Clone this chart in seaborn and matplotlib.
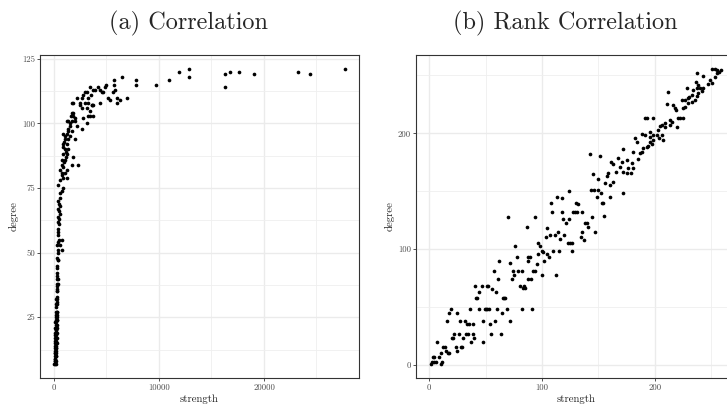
import matplotlib
matplotlib.use("Agg")
import matplotlib.pyplot as plt
import pandas as pd
import seaborn as sns

# values

# (a) raw values: node strength vs degree
low_strength = [40, 90, 150, 60, 120, 180, 50, 140, 80, 160,
                210, 70, 130, 190, 100, 170, 60, 150, 230, 110,
                200, 90, 160, 240, 120, 210, 80, 180, 250, 140,
                220, 100, 200, 260, 150, 230, 120, 190, 280, 170,
                250, 130, 220, 160, 260, 300, 180, 240, 150, 280,
                200, 260, 320, 210, 180, 270, 240, 220, 300, 260,
                240, 320, 280, 260, 300, 340, 290, 350, 310, 330,
                320, 300, 340, 380, 320, 360, 380, 760, 320, 570,
                400, 440, 800, 380, 350, 420, 440, 350, 520, 400,
                600, 460, 380, 560, 450, 420, 560]
low_degree = [7, 7, 7, 8, 8, 8, 9, 9, 10, 10,
              10, 11, 11, 11, 12, 12, 13, 13, 13, 14,
              14, 15, 15, 15, 16, 16, 17, 17, 17, 18,
              18, 19, 19, 19, 20, 20, 21, 21, 21, 22,
              22, 23, 23, 24, 24, 24, 25, 25, 26, 26,
              27, 27, 27, 29, 30, 30, 31, 32, 32, 33,
              35, 35, 36, 37, 38, 38, 40, 40, 41, 42,
              44, 45, 47, 47, 48, 50, 51, 51, 53, 53,
              54, 55, 55, 57, 58, 59, 61, 62, 63, 64,
              65, 66, 67, 68, 69, 70, 71]

curve_strength = [6450, 7780, 7780, 5750, 5720, 5810, 4920, 4860, 4220, 4380,
                  4540, 4700, 3900, 3430, 3750, 2950, 2790, 3110, 3270, 3520,
                  5180, 5650, 5970, 6290, 6920, 5970, 5330, 4380, 3750, 3590,
                  3270, 2950, 2640, 2480, 2160, 1840, 1680, 2480, 2700, 3110,
                  3430, 3590, 3270, 3430, 3750, 2730, 3110, 2700, 2160, 2000,
                  1840, 1840, 1680, 1370, 1210, 2000, 1520, 1370, 1680, 1210,
                  1050, 1520, 2000, 1370, 1050, 890, 1210, 890, 1050, 1370,
                  1210, 1840, 890, 730, 1050, 1680, 2320, 730, 890, 1210,
                  570, 730, 1050, 1210, 890, 570, 410, 890, 730, 570,
                  900, 1000, 1100, 1150, 950, 800, 1300, 1500, 1600, 1700]
curve_degree = [118, 117, 115, 117, 115, 113, 115, 114, 114, 113,
                112, 112, 113, 114, 113, 112, 111, 112, 110, 111,
                110, 112, 110, 109, 110, 108, 109, 108, 107, 107,
                108, 108, 110, 108, 110, 108, 108, 107, 106, 106,
                105, 107, 103, 103, 103, 102, 100, 98, 99, 101,
                104, 103, 101, 101, 101, 102, 99, 97, 97, 96,
                95, 95, 94, 94, 94, 92, 92, 91, 90, 90,
                88, 87, 88, 86, 86, 84, 84, 84, 83, 82,
                82, 81, 81, 79, 79, 78, 76, 75, 74, 73,
                96, 93, 89, 87, 85, 80, 98, 100, 103, 104]

top_strength = [9710, 10980, 11870, 12830, 12830, 16290, 16290, 16730, 17650,
                19050, 23270, 24410, 27710]
top_degree = [115, 117, 120, 121, 118, 119, 114, 120, 120, 119, 120, 119, 121]

# (b) ranks of strength vs ranks of degree
rank_strength = [
    1.2, 3.0, 4.4, 2.4, 4.1, 5.9, 7.1, 8.9, 10.1, 10.1,
    11.2, 12.4, 13.9, 14.8, 16.3, 17.2, 16.0, 17.8, 18.9, 19.8,
    21.3, 22.2, 23.7, 24.3, 24.9, 26.0, 27.2, 28.1, 29.0, 30.2,
    31.7, 32.5, 33.7, 34.6, 35.5, 36.1, 37.3, 38.5, 39.1, 39.6,
    40.8, 41.4, 42.6, 44.4, 44.4, 46.4, 47.3, 47.9, 49.4, 50.3,
    50.9, 51.5, 52.4, 53.3, 53.8, 54.4, 55.6, 57.4, 58.3, 59.2,
    60.4, 63.3, 64.2, 65.1, 66.3, 67.5, 69.2, 71.6, 82.0, 91.4,
    142.6, 151.5, 161.2, 163.3, 145.0, 158.9, 157.4, 149.4, 163.3, 155.9,
    160.3, 143.5, 146.4, 150.0, 152.4, 148.5, 160.3, 153.5, 154.4, 155.3,
    124.0, 113.0, 118.0, 108.0, 130.2, 132.2, 129.3, 127.8, 130.8, 135.2,
    109.2, 117.5, 144.1, 118.9, 124.0, 121.3, 138.2, 139.6, 141.1, 135.8,
    147.0, 114.5, 104.1, 107.1, 111.5, 103.3, 119.8, 116.0, 134.6, 137.6,
    70.1, 93.8, 86.4, 96.2, 98.2, 122.8, 124.8, 126.9, 76.0, 99.7,
    101.2, 110.1, 115.1, 126.9, 96.8, 104.1, 106.2, 102.1, 87.9, 87.3,
    89.4, 77.5, 61.8, 71.6, 74.6, 79.0, 82.0, 92.3, 93.8, 95.3,
    99.7, 112.1, 61.3, 73.1, 75.5, 87.9, 90.2, 80.5, 84.3, 83.4,
    84.9,
    250.6, 253.5, 255.6, 257.4, 258.6, 255.0, 253.5, 249.1, 250.6, 247.6,
    242.6, 237.9, 236.7, 238.8, 240.2, 243.2, 241.7, 237.3, 234.3, 229.0,
    232.8, 230.8, 237.3, 238.8, 235.8, 232.8, 229.9, 226.9, 224.0, 229.9,
    226.9, 225.4, 212.1, 216.6, 218.0, 218.9, 211.2, 222.5, 221.0, 225.4,
    220.1, 213.6, 215.1, 213.6, 209.2, 206.2, 209.2, 204.7, 198.8, 192.9,
    191.4, 203.3, 201.8, 198.8, 195.9, 195.9, 191.4, 188.5, 206.2, 204.1,
    207.7, 198.8, 195.9, 194.4, 197.3, 192.9, 190.0, 188.5, 187.0, 182.6,
    184.0, 181.1, 185.5, 171.6, 167.8, 170.7, 169.2, 175.2, 179.6, 181.1,
    165.7, 172.2, 176.6, 175.2, 178.7, 172.0]
rank_degree = [
    1.2, 7.2, 7.2, 2.9, 2.9, 2.9, 19.9, 7.2, 10.1, 0.9,
    2.9, 15.3, 15.3, 12.4, 10.7, 10.1, 38.3, 45.2, 48.1, 23.0,
    23.0, 26.8, 15.3, 12.4, 45.2, 26.8, 38.3, 15.3, 15.3, 23.0,
    38.3, 26.8, 35.1, 26.8, 35.1, 48.1, 19.9, 35.1, 26.8, 23.0,
    68.2, 58.1, 58.1, 63.3, 48.1, 68.2, 38.3, 19.9, 48.1, 48.1,
    68.2, 48.1, 68.2, 48.1, 35.1, 26.8, 65.3, 81.2, 38.3, 63.3,
    48.1, 26.8, 45.2, 58.1, 58.1, 58.1, 48.1, 38.3, 48.1, 48.1,
    182.2, 180.5, 175.6, 173.6, 164.7, 165.5, 163.2, 160.4, 158.4, 156.9,
    155.5, 151.2, 151.2, 151.2, 148.3, 145.4, 145.4, 140.2, 140.2, 128.7,
    150.6, 145.4, 144.5, 140.2, 140.2, 139.1, 132.4, 132.4, 132.4, 132.4,
    132.4, 132.4, 128.1, 126.1, 126.1, 122.4, 122.4, 122.4, 118.9, 115.2,
    115.2, 115.2, 118.1, 112.3, 112.3, 110.3, 112.3, 108.6, 110.3, 108.0,
    128.1, 128.1, 118.9, 105.1, 103.1, 105.1, 105.1, 105.1, 103.1, 98.8,
    97.9, 98.8, 98.8, 98.8, 95.9, 95.9, 93.0, 90.1, 93.0, 90.1,
    93.0, 93.0, 90.1, 88.4, 81.5, 81.5, 81.5, 81.5, 81.5, 87.3,
    77.8, 77.8, 74.0, 74.0, 77.8, 74.0, 74.0, 68.3, 68.3, 66.2,
    66.2,
    255.6, 255.6, 254.7, 253.3, 254.7, 251.9, 249.0, 246.1, 243.2, 242.4,
    249.9, 251.9, 244.7, 241.8, 238.9, 238.9, 236.6, 238.9, 237.5, 238.9,
    233.2, 231.7, 232.6, 234.6, 228.8, 227.4, 230.3, 228.8, 228.8, 226.0,
    223.1, 221.6, 235.5, 224.5, 221.6, 220.2, 225.1, 213.6, 213.6, 213.6,
    205.8, 211.6, 210.1, 207.3, 208.7, 207.3, 205.8, 206.7, 213.6, 213.6,
    213.6, 202.9, 198.6, 198.6, 200.9, 197.2, 198.6, 199.2, 198.6, 195.7,
    194.3, 194.3, 192.3, 189.4, 190.6, 188.5, 187.1, 184.2, 182.8, 196.3,
    192.3, 184.2, 177.9, 186.5, 179.0, 175.0, 171.3, 177.0, 174.1, 169.8,
    167.0, 167.0, 169.8, 165.5, 165.5, 148.8]

titles = ["(a) Correlation", "(b) Rank Correlation"]
raw_xticks = [0, 10000, 20000]
raw_yticks = [25, 50, 75, 100, 125]
rank_ticks = [0, 100, 200]

raw = pd.DataFrame({"strength": low_strength + curve_strength + top_strength,
                    "degree": low_degree + curve_degree + top_degree})
ranks = pd.DataFrame({"strength": rank_strength, "degree": rank_degree})

sns.set_style("white")
plt.rcParams["font.family"] = ["cmr10", "DejaVu Serif"]
plt.rcParams["axes.formatter.use_mathtext"] = True

W, H = 727, 408
fig = plt.figure(figsize=(W / 100, H / 100), dpi=100)
ax1 = fig.add_axes([40 / W, 30 / H, 319 / W, 323 / H])
ax2 = fig.add_axes([416 / W, 30 / H, 321 / W, 323 / H])


def style(ax, xticks, yticks, xlim, ylim):
    ax.set_xticks(xticks)
    ax.set_xticklabels([str(t) for t in xticks])
    ax.set_yticks(yticks)
    ax.set_yticklabels([str(t) for t in yticks])
    dx = xticks[1] - xticks[0]
    dy = yticks[1] - yticks[0]
    ax.set_xticks([t + dx / 2 for t in [xticks[0] - dx] + xticks], minor=True)
    ax.set_yticks([t + dy / 2 for t in [yticks[0] - dy] + yticks], minor=True)
    # limits last: setting ticks can widen the view
    ax.set_xlim(xlim)
    ax.set_ylim(ylim)
    ax.grid(which="major", color="#EBEBEB", lw=1.0)
    ax.grid(which="minor", color="#EFEFEF", lw=0.6)
    ax.set_axisbelow(True)
    for sp in ax.spines.values():
        sp.set_color("#333333")
        sp.set_linewidth(0.8)
    ax.tick_params(which="major", bottom=True, left=True, direction="out",
                   length=2.2, width=0.6, color="#333333",
                   labelcolor="#4D4D4D", labelsize=6.3, pad=1.5)
    ax.tick_params(which="minor", length=0)
    ax.set_xlabel("strength", fontsize=7.8, labelpad=2)
    ax.set_ylabel("degree", fontsize=7.8, labelpad=2)


sns.scatterplot(data=raw, x="strength", y="degree", ax=ax1, color="black",
                s=7, linewidth=0, legend=False)
sns.scatterplot(data=ranks, x="strength", y="degree", ax=ax2, color="black",
                s=7, linewidth=0, legend=False)

style(ax1, raw_xticks, raw_yticks, (-1333, 29050), (1.5, 126.5))
style(ax2, rank_ticks, rank_ticks, (-11.8, 273), (-11.2, 267.6))

fig.text(188 / W, 1 - 23 / H, titles[0], fontsize=17.5, ha="center", va="center")
fig.text(565 / W, 1 - 23 / H, titles[1], fontsize=17.5, ha="center", va="center")

fig.savefig("out.png", dpi=100)
